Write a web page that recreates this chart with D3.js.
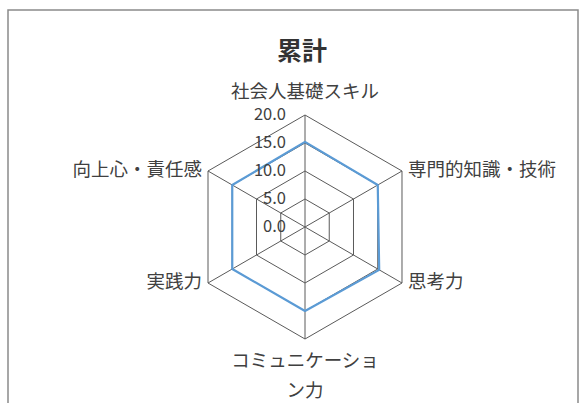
<!DOCTYPE html>
<html>
<head>
<meta charset="utf-8">
<script src="https://cdn.jsdelivr.net/npm/d3@7"></script>
<style>
  body { margin: 0; background: #fff; }
  text { font-family: "Noto Sans CJK JP", "Noto Sans", sans-serif; }
</style>
</head>
<body>
<script>
// 軸の項目 (上から時計回り)
const categories = ["社会人基礎スキル", "専門的知識・技術", "思考力", "コミュニケーション力", "実践力", "向上心・責任感"]
const values = [15.2, 15.0, 15.3, 15.0, 15.0, 15.0]
const ticks = [0, 5, 10, 15, 20]

const W = 582, H = 403
const cx = 305, cy = 227
const svg = d3.select("body").append("svg").attr("width", W).attr("height", H)

// 外枠
svg.append("rect")
   .attr("x", 8).attr("y", 10)
   .attr("width", 570).attr("height", 400)
   .attr("fill", "#fff").attr("stroke", "#8a8a8a").attr("stroke-width", 1.5)

svg.append("text")
   .attr("x", cx - 3).attr("y", 53)
   .attr("text-anchor", "middle").attr("dominant-baseline", "middle")
   .attr("font-size", 25).attr("font-weight", "bold").attr("fill", "#333")
   .text("累計")

const r = d3.scaleLinear().domain([0, 20]).range([0, 112])
const angle = d3.scaleLinear().domain([0, categories.length]).range([0, 2 * Math.PI])
function pt(i, v){
  const a = angle(i)
  return [cx + r(v) * Math.sin(a), cy - r(v) * Math.cos(a)]
}

const chart = svg.append("g")

// グリッド (六角形)
ticks.filter(t => t > 0).forEach(function(t){
  chart.append("path")
       .attr("d", d3.line()(categories.map((c, i) => pt(i, t))) + "Z")
       .attr("fill", "none").attr("stroke", "#5a5a5a").attr("stroke-width", 1)
})
categories.forEach(function(c, i){
  const p = pt(i, 20)
  chart.append("line")
       .attr("x1", cx).attr("y1", cy).attr("x2", p[0]).attr("y2", p[1])
       .attr("stroke", "#5a5a5a").attr("stroke-width", 1)
})

// データ線
chart.append("path")
     .attr("d", d3.line()(values.map((v, i) => pt(i, v))) + "Z")
     .attr("fill", "none").attr("stroke", "#5b9bd5").attr("stroke-width", 2.2)
     .attr("stroke-linejoin", "round")

// 目盛ラベル
chart.selectAll(".tick")
     .data(ticks)
     .enter().append("text")
     .attr("x", cx - 19)
     .attr("y", d => cy - r(d) + 1)
     .attr("text-anchor", "end").attr("dominant-baseline", "middle")
     .attr("font-size", 16.5).attr("fill", "#404040")
     .text(d => d3.format(".1f")(d))

// 項目ラベル (8文字で折り返し)
categories.forEach(function(c, i){
  const lines = []
  for(let k = 0; k < c.length; k += 8) lines.push(c.slice(k, k + 8))
  const p = pt(i, 20)
  const a = angle(i)
  const s = Math.sin(a)
  let anchor = "middle", x = p[0], y = p[1]
  if(s > 0.1){ anchor = "start"; x += 6 }
  else if(s < -0.1){ anchor = "end"; x -= 6 }
  else if(Math.cos(a) > 0){ y -= 22 }
  else { y += 23 }
  const t = chart.append("text")
       .attr("text-anchor", anchor).attr("dominant-baseline", "middle")
       .attr("font-size", 18.5).attr("fill", "#404040")
  lines.forEach(function(l, k){
    t.append("tspan").attr("x", x).attr("y", y + k * 30).text(l)
  })
})
</script>
</body>
</html>
